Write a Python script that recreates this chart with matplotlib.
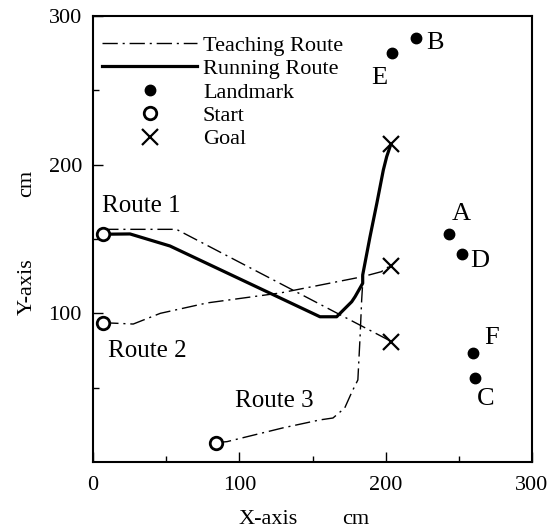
import matplotlib
matplotlib.use("Agg")
import matplotlib.pyplot as plt
from matplotlib.lines import Line2D

plt.rcParams['font.family'] = ['Liberation Serif', 'DejaVu Serif']

# ---- data (cm) ----
teach1_x = [7, 57, 204]
teach1_y = [156.5, 156.5, 81]

teach2_x = [7, 27.5, 46, 78, 128, 184, 197, 203]
teach2_y = [93.7, 92.8, 100, 107, 113.7, 124.6, 128, 132]

teach3_x = [84, 91.6, 130, 155, 164, 172, 177, 181, 182.5, 183.6, 184.3, 184.3,
            189.3, 194, 198.4, 200.7, 203.6]
teach3_y = [13, 13.7, 23, 28.3, 29.6, 36.3, 47.3, 55.2, 84, 109, 120.2, 125.8,
            151.5, 174.2, 196.4, 205.4, 213.9]

run_x = [6.6, 25.3, 52.6, 155.1, 166.5, 176.8, 179.1, 184.3, 184.3, 189.3, 194, 198.4, 200.7, 203.6]
run_y = [153.2, 153.4, 145.3, 97.7, 97.7, 107.8, 111.2, 120.2, 125.8, 151.5, 174.2, 196.4, 205.4, 213.9]

landmark_names = ['A', 'B', 'C', 'D', 'E', 'F']
landmark_x = [243.5, 220.6, 261, 252.4, 204.4, 260]
landmark_y = [153.3, 285, 56.3, 139.7, 275.3, 73.5]

start_x = [6.6, 7, 84]
start_y = [153.2, 93.7, 13]

goal_x = [203.6, 203.6, 203.6]
goal_y = [214, 132, 81]

route_names = ['Route 1', 'Route 2', 'Route 3']

x_ticks = [0, 100, 200, 300]
y_ticks = [100, 200, 300]

# ---- figure ----
fig = plt.figure(figsize=(5.54, 5.30), dpi=100)
ax = fig.add_axes([93/554, 1-462/530, 439/554, 446/530])

dash = (0, (11, 3.5, 1.5, 3.5))
for tx, ty in [(teach1_x, teach1_y), (teach2_x, teach2_y), (teach3_x, teach3_y)]:
    ax.plot(tx, ty, color='black', lw=1.0, linestyle=dash, zorder=2)
ax.plot(run_x, run_y, color='black', lw=2.3, solid_joinstyle='round', zorder=3)

ax.plot(landmark_x, landmark_y, 'o', color='black', ms=7.5, ls='none', zorder=4)
ax.plot(start_x, start_y, 'o', mfc='white', mec='black', mew=2.0, ms=9, ls='none', zorder=5)
ax.plot(goal_x, goal_y, 'x', color='black', mew=1.6, ms=11, ls='none', zorder=5)

# landmark labels
lab_pos = {'A': (251.5, 166.8), 'B': (234, 281.8), 'C': (268.6, 42.6),
           'D': (264.5, 135.2), 'E': (195.5, 258.6), 'F': (272.7, 83.7)}
for n in landmark_names:
    px, py = lab_pos[n]
    ax.text(px, py, n, fontsize=19, ha='center', va='center')

route_pos = [(5.9, 168.3), (10.5, 70.4), (97, 37.2)]
for name, (px, py) in zip(route_names, route_pos):
    ax.text(px, py, name, fontsize=18, ha='left', va='baseline')

ax.set_xlim(0, 300)
ax.set_ylim(0, 300)
ax.set_xticks(x_ticks)
ax.set_yticks(y_ticks)
ax.set_xticks([50, 150, 250], minor=True)
ax.set_yticks([50, 150, 250], minor=True)
ax.tick_params(which='major', direction='in', length=7, width=1.0, labelsize=16, top=False, right=False)
ax.tick_params(which='minor', direction='in', length=4, width=1.0, top=False, right=False)
ax.tick_params(axis='x', which='major', pad=10)
ax.tick_params(axis='y', which='major', pad=8)
for s in ax.spines.values():
    s.set_linewidth(1.5)

# axis labels
fig.text(268/554, 1-519/530, 'X-axis', fontsize=16, ha='center', va='center')
fig.text(356/554, 1-519/530, 'cm', fontsize=16, ha='center', va='center')
fig.text(27/554, 1-287/530, 'Y-axis', fontsize=16, ha='center', va='center', rotation=90)
fig.text(27/554, 1-183/530, 'cm', fontsize=16, ha='center', va='center', rotation=90)

handles = [
    Line2D([], [], color='black', lw=1.0, linestyle=dash),
    Line2D([], [], color='black', lw=2.3),
    Line2D([], [], marker='o', color='black', ms=7.5, ls='none'),
    Line2D([], [], marker='o', mfc='white', mec='black', mew=2.0, ms=9, ls='none'),
    Line2D([], [], marker='x', color='black', mew=1.6, ms=11, ls='none'),
]
labels = ['Teaching Route', 'Running Route', 'Landmark', 'Start', 'Goal']
ax.legend(handles, labels, loc='upper left', bbox_to_anchor=(0.005, 0.972),
          frameon=False, fontsize=16, handlelength=4.3, handletextpad=0.25,
          labelspacing=0.13, borderaxespad=0.0, borderpad=0.3)

fig.savefig('out.png', dpi=100)
